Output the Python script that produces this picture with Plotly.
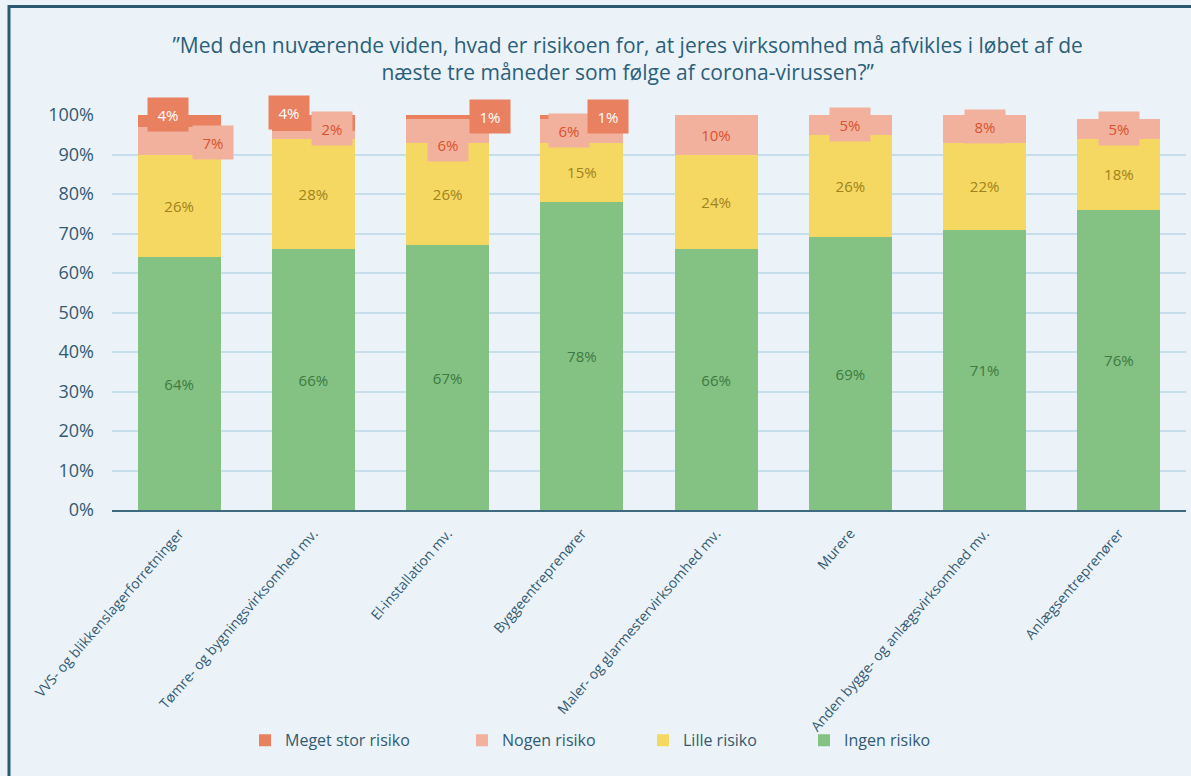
import plotly.graph_objects as go

# data (percent)
categories = [
    "VVS- og blikkenslagerforretninger",
    "Tømre- og bygningsvirksomhed mv.",
    "El-installation mv.",
    "Byggeentreprenører",
    "Maler- og glarmestervirksomhed mv.",
    "Murere",
    "Anden bygge- og anlægsvirksomhed mv.",
    "Anlægsentreprenører",
]
ingen_risiko = [64, 66, 67, 78, 66, 69, 71, 76]
lille_risiko = [26, 28, 26, 15, 24, 26, 22, 18]
nogen_risiko = [7, 2, 6, 6, 10, 5, 8, 5]
meget_stor_risiko = [4, 4, 1, 1, 0, 0, 0, 0]

TITLE = ("”Med den nuværende viden, hvad er risikoen for, at jeres virksomhed må afvikles i løbet af de"
         "<br>næste tre måneder som følge af corona-virussen?”")

C = {
    'bg': '#EBF3F8',
    'border': '#2B5A70',
    'grid': '#C6DEEB',
    'axis': '#3E6A80',
    'text': '#335A72',
    'title': '#2B5F7A',
    'meget': '#E9805F',
    'nogen': '#F2B19C',
    'lille': '#F5D862',
    'ingen': '#84C283',
    'meget_txt': '#FFFFFF',
    'nogen_txt': '#D9512F',
    'lille_txt': '#A0821A',
    'ingen_txt': '#3B7A42',
}
FONT = 'Open Sans'

# label box offsets in px (xshift, yshift) for the outer segments
meget_shift = {0: (-11, 4), 1: (-24, 10), 2: (42, 0), 3: (26, 0)}
nogen_shift = {0: (34, -2), 1: (19, 6), 2: (0, -14), 3: (-13, 0)}

fig = go.Figure()
series = [
    ("Ingen risiko", ingen_risiko, C['ingen'], C['ingen_txt'], 'legend4'),
    ("Lille risiko", lille_risiko, C['lille'], C['lille_txt'], 'legend3'),
    ("Nogen risiko", nogen_risiko, C['nogen'], C['nogen_txt'], 'legend2'),
    ("Meget stor risiko", meget_stor_risiko, C['meget'], C['meget_txt'], 'legend'),
]
for name, vals, col, tcol, leg in series:
    inside = name in ("Ingen risiko", "Lille risiko")
    fig.add_trace(go.Bar(
        x=categories, y=vals, name=name,
        marker=dict(color=col, line=dict(width=0)),
        text=[f"{v}%" for v in vals] if inside else None,
        textposition='inside' if inside else 'none',
        insidetextanchor='middle',
        textfont=dict(color=tcol, size=15, family=FONT),
        legend=leg, showlegend=True,
    ))

# boxed labels for the two top segments
annotations = []
for i, cat in enumerate(categories):
    base = ingen_risiko[i] + lille_risiko[i]
    n = nogen_risiko[i]
    dx, dy = nogen_shift.get(i, (0, 0))
    annotations.append(dict(
        x=cat, y=base + n / 2, text=f"{n}%", showarrow=False,
        xshift=dx, yshift=dy, width=38, height=31,
        bgcolor=C['nogen'], font=dict(color=C['nogen_txt'], size=15, family=FONT)))
    m = meget_stor_risiko[i]
    if m:
        dx, dy = meget_shift.get(i, (0, 0))
        annotations.append(dict(
            x=cat, y=base + n + m / 2, text=f"{m}%", showarrow=False,
            xshift=dx, yshift=dy, width=38, height=31,
            bgcolor=C['meget'], font=dict(color=C['meget_txt'], size=15, family=FONT)))

legend_base = dict(orientation='h', xref='container', yref='container', yanchor='middle',
                   y=0.046, bgcolor='rgba(0,0,0,0)', visible=True,
                   font=dict(size=16, color=C['text'], family=FONT))
fig.update_layout(
    barmode='stack',
    bargap=0.38,
    showlegend=True,
    width=1191, height=776,
    paper_bgcolor=C['bg'], plot_bgcolor=C['bg'],
    margin=dict(l=112, r=5, t=115, b=266, autoexpand=False),
    font=dict(family=FONT, color=C['text']),
    title=dict(text=TITLE, x=0.527, xanchor='center', y=0.932, yanchor='middle',
               font=dict(size=21, color=C['title'], family=FONT)),
    xaxis=dict(tickangle=-49, tickfont=dict(size=14, color=C['text']),
               showline=True, linecolor=C['axis'], linewidth=1.5, ticks='',
               ticklabelstandoff=8),
    yaxis=dict(range=[0, 100], dtick=10, ticksuffix='%', gridcolor=C['grid'], gridwidth=1.5,
               zeroline=False, tickfont=dict(size=18, color=C['text']), ticklen=0,
               ticklabelstandoff=17),
    annotations=annotations,
    legend=dict(legend_base, x=245 / 1191),
    legend2=dict(legend_base, x=462 / 1191),
    legend3=dict(legend_base, x=643 / 1191),
    legend4=dict(legend_base, x=804 / 1191),
)
# chart frame (top and left edges visible)
fig.add_shape(type='rect', xref='paper', yref='paper',
              x0=-103 / 1074, x1=1.02, y0=-0.75, y1=(510 - 6.5) / 395,
              line=dict(color=C['border'], width=3), fillcolor='rgba(0,0,0,0)', layer='below')

fig.write_html("out.html", config={'displayModeBar': False},
               post_script="document.body.style.margin='0';")
